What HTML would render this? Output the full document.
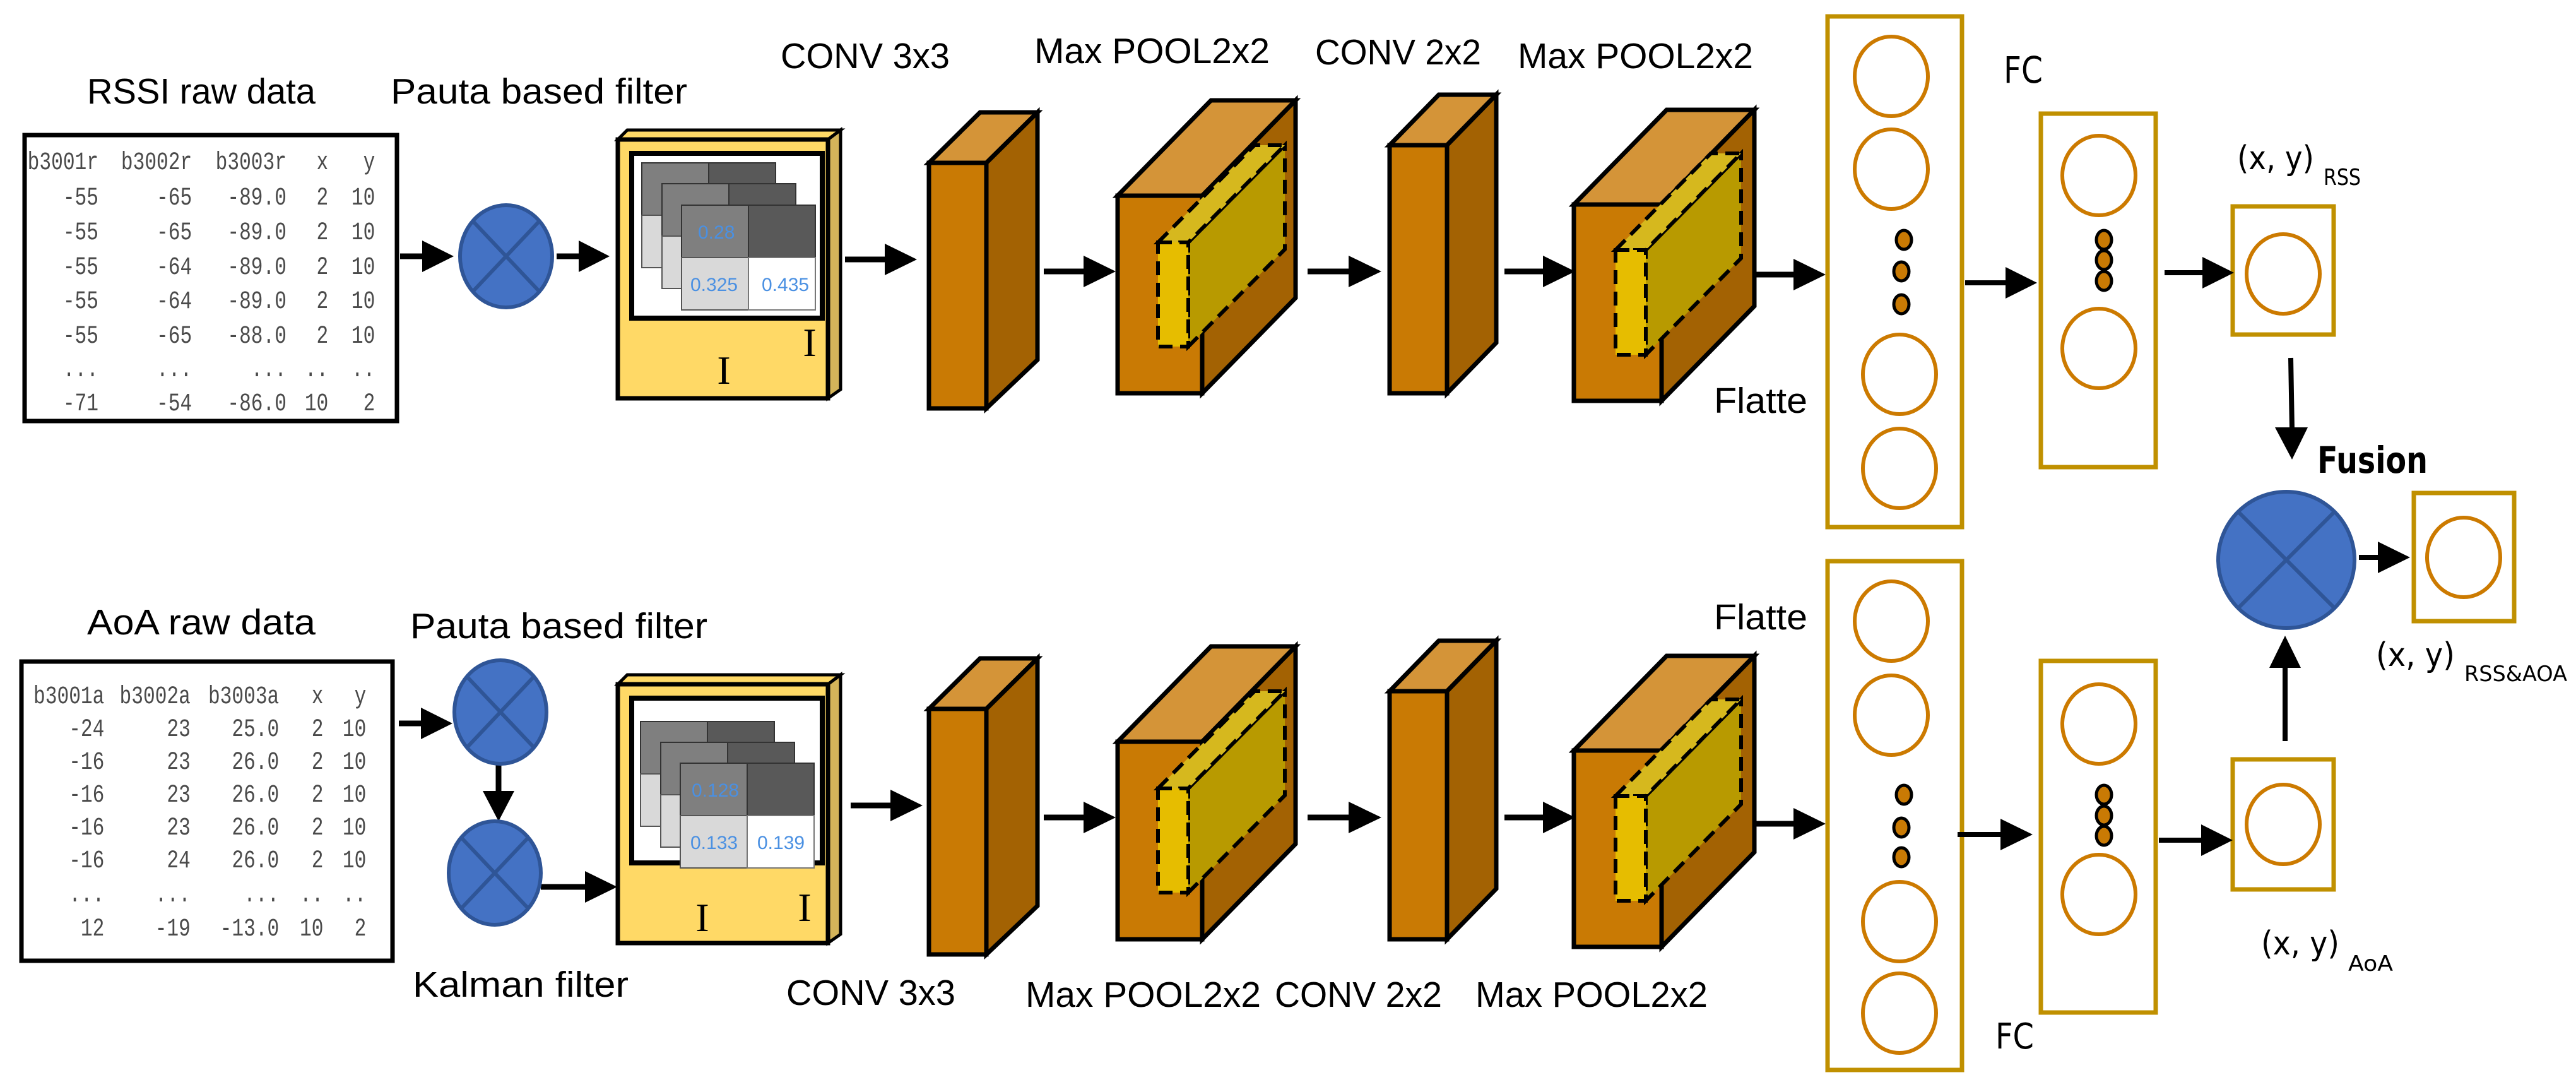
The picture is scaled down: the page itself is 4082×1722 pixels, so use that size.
<!DOCTYPE html>
<html><head><meta charset="utf-8"><style>
html,body{margin:0;padding:0;background:#fff;}
svg{display:block;}
.lb{font-family:"Liberation Sans",sans-serif;font-size:57px;fill:#000;}
.dj{font-family:"DejaVu Sans","Liberation Sans",sans-serif;fill:#000;}
.tb{font-family:"Liberation Mono",monospace;font-size:40px;fill:#4a4a4a;text-anchor:end;}
.bv{font-family:"Liberation Sans",sans-serif;font-size:30px;fill:#4A90E2;}
.rom{font-family:"Liberation Serif",serif;font-size:64px;fill:#000;text-anchor:middle;}
</style></head><body>
<svg width="4082" height="1722" viewBox="0 0 4082 1722" xmlns="http://www.w3.org/2000/svg">
<defs>
<g id="cnn" stroke="#000" stroke-width="7" stroke-linejoin="miter">
 <!-- conv1 -->
 <polygon points="1472,258 1553,178 1644,178 1563,258" fill="#D49438"/>
 <polygon points="1563,258 1644,178 1644,570 1563,647" fill="#A36203"/>
 <rect x="1472" y="258" width="91" height="389" fill="#C97A04"/>
 <!-- pool1 -->
 <polygon points="1771,310 1919,159 2053,159 1905,310" fill="#D49438"/>
 <polygon points="1905,310 2053,159 2053,472 1905,623" fill="#A36203"/>
 <rect x="1771" y="310" width="134" height="313" fill="#C97A04"/>
 <g stroke-dasharray="22,12" stroke-width="6">
 <polygon points="1883,384 2036,230 2036,395 1883,549" fill="#B89A00"/>
 <polygon points="1835,384 1988,230 2036,230 1883,384" fill="#D6B81E"/>
 <rect x="1835" y="384" width="48" height="165" fill="#E6BD00"/>
 </g>
 <!-- conv2 -->
 <polygon points="2202,230 2280,150 2371,150 2293,230" fill="#D49438"/>
 <polygon points="2293,230 2371,150 2371,543 2293,623" fill="#A36203"/>
 <rect x="2202" y="230" width="91" height="393" fill="#C97A04"/>
 <!-- pool2 -->
 <polygon points="2494,324 2641,174 2780,174 2633,324" fill="#D49438"/>
 <polygon points="2633,324 2780,174 2780,485 2633,635" fill="#A36203"/>
 <rect x="2494" y="324" width="139" height="311" fill="#C97A04"/>
 <g stroke-dasharray="22,12" stroke-width="6">
 <polygon points="2608,396 2759,243 2759,409 2608,562" fill="#B89A00"/>
 <polygon points="2560,396 2711,243 2759,243 2608,396" fill="#D6B81E"/>
 <rect x="2560" y="396" width="48" height="166" fill="#E6BD00"/>
 </g>
</g>
<g id="filt">
 <polygon points="979,221 994,206 1332,206 1312,221" fill="#FFD966" stroke="#000" stroke-width="5"/>
 <polygon points="1312,221 1332,206 1332,617 1312,631" fill="#D4B45A" stroke="#000" stroke-width="5"/>
 <rect x="979" y="221" width="333" height="410" fill="#FFD966" stroke="#000" stroke-width="7"/>
 <rect x="1001" y="243" width="302" height="261" fill="#fff" stroke="#000" stroke-width="8"/>
</g>
<g id="lay">
 <rect x="0" y="0" width="106" height="83" fill="#7F7F7F" stroke="#333" stroke-width="2"/>
 <rect x="106" y="0" width="106" height="83" fill="#595959" stroke="#333" stroke-width="2"/>
 <rect x="0" y="83" width="106" height="83" fill="#D9D9D9" stroke="#555" stroke-width="2"/>
 <rect x="106" y="83" width="106" height="83" fill="#fff" stroke="#777" stroke-width="2"/>
</g>
</defs>

<!-- ===== TOP ROW ===== -->
<text class="lb" x="138" y="164" textLength="362" lengthAdjust="spacingAndGlyphs">RSSI raw data</text>
<text class="lb" x="619" y="164" textLength="470" lengthAdjust="spacingAndGlyphs">Pauta based filter</text>
<text class="lb" x="1237" y="108" textLength="268" lengthAdjust="spacingAndGlyphs">CONV 3x3</text>
<text class="lb" x="1639" y="100" textLength="373" lengthAdjust="spacingAndGlyphs">Max POOL2x2</text>
<text class="lb" x="2084" y="102" textLength="263" lengthAdjust="spacingAndGlyphs">CONV 2x2</text>
<text class="lb" x="2405" y="108" textLength="373" lengthAdjust="spacingAndGlyphs">Max POOL2x2</text>
<text class="lb" x="2716" y="654" textLength="148" lengthAdjust="spacingAndGlyphs">Flatte</text>

<rect x="39" y="214" width="590" height="453" fill="#fff" stroke="#000" stroke-width="7"/>
<g transform="scale(0.78,1)">
 <text class="tb" x="200" y="268">b3001r</text><text class="tb" x="390" y="268">b3002r</text><text class="tb" x="582" y="268">b3003r</text><text class="tb" x="667" y="268">x</text><text class="tb" x="762" y="268">y</text>
 <g>
 <text class="tb" x="200" y="324">-55</text><text class="tb" x="390" y="324">-65</text><text class="tb" x="582" y="324">-89.0</text><text class="tb" x="667" y="324">2</text><text class="tb" x="762" y="324">10</text>
 <text class="tb" x="200" y="379">-55</text><text class="tb" x="390" y="379">-65</text><text class="tb" x="582" y="379">-89.0</text><text class="tb" x="667" y="379">2</text><text class="tb" x="762" y="379">10</text>
 <text class="tb" x="200" y="434">-55</text><text class="tb" x="390" y="434">-64</text><text class="tb" x="582" y="434">-89.0</text><text class="tb" x="667" y="434">2</text><text class="tb" x="762" y="434">10</text>
 <text class="tb" x="200" y="488">-55</text><text class="tb" x="390" y="488">-64</text><text class="tb" x="582" y="488">-89.0</text><text class="tb" x="667" y="488">2</text><text class="tb" x="762" y="488">10</text>
 <text class="tb" x="200" y="543">-55</text><text class="tb" x="390" y="543">-65</text><text class="tb" x="582" y="543">-88.0</text><text class="tb" x="667" y="543">2</text><text class="tb" x="762" y="543">10</text>
 <text class="tb" x="200" y="596">...</text><text class="tb" x="390" y="596">...</text><text class="tb" x="582" y="596">...</text><text class="tb" x="667" y="596">..</text><text class="tb" x="762" y="596">..</text>
 <text class="tb" x="200" y="650">-71</text><text class="tb" x="390" y="650">-54</text><text class="tb" x="582" y="650">-86.0</text><text class="tb" x="667" y="650">10</text><text class="tb" x="762" y="650">2</text>
 </g>
</g>

<!-- arrows top-left -->
<g fill="#000" stroke="#000" stroke-width="9">
 <line x1="634" y1="406" x2="672" y2="406"/><polygon points="669,381 719,406 669,431" stroke="none"/>
 <line x1="882" y1="406" x2="920" y2="406"/><polygon points="917,381 966,406 917,431" stroke="none"/>
 <line x1="1339" y1="411" x2="1405" y2="411"/><polygon points="1402,386 1453,411 1402,436" stroke="none"/>
</g>
<ellipse cx="802" cy="406" rx="73" ry="81" fill="#4472C4" stroke="#2F5597" stroke-width="6"/>
<line x1="750" y1="351" x2="854" y2="461" stroke="#2F5597" stroke-width="6"/>
<line x1="854" y1="351" x2="750" y2="461" stroke="#2F5597" stroke-width="6"/>

<use href="#filt"/>
<use href="#lay" x="1017" y="258"/>
<use href="#lay" x="1049" y="291"/>
<use href="#lay" x="1080" y="325"/>
<text class="bv" x="1106" y="378">0.28</text>
<text class="bv" x="1094" y="461">0.325</text>
<text class="bv" x="1207" y="461">0.435</text>
<text class="rom" x="1147" y="608">I</text>
<text class="rom" x="1283" y="564">I</text>

<use href="#cnn"/>
<g fill="#000" stroke="#000" stroke-width="9">
 <line x1="1654" y1="430" x2="1720" y2="430"/><polygon points="1717,405 1768,430 1717,455" stroke="none"/>
 <line x1="2072" y1="430" x2="2140" y2="430"/><polygon points="2137,405 2189,430 2137,455" stroke="none"/>
 <line x1="2384" y1="430" x2="2448" y2="430"/><polygon points="2445,405 2496,430 2445,455" stroke="none"/>
 <line x1="2783" y1="435" x2="2845" y2="435"/><polygon points="2842,410 2893,435 2842,460" stroke="none"/>
</g>

<!-- ===== BOTTOM ROW ===== -->
<text class="lb" x="138" y="1005" textLength="362" lengthAdjust="spacingAndGlyphs">AoA raw data</text>
<text class="lb" x="650" y="1011" textLength="471" lengthAdjust="spacingAndGlyphs">Pauta based filter</text>
<text class="lb" x="654" y="1579" textLength="342" lengthAdjust="spacingAndGlyphs">Kalman filter</text>
<text class="lb" x="1246" y="1592" textLength="268" lengthAdjust="spacingAndGlyphs">CONV 3x3</text>
<text class="lb" x="1625" y="1595" textLength="373" lengthAdjust="spacingAndGlyphs">Max POOL2x2</text>
<text class="lb" x="2020" y="1595" textLength="265" lengthAdjust="spacingAndGlyphs">CONV 2x2</text>
<text class="lb" x="2338" y="1595" textLength="368" lengthAdjust="spacingAndGlyphs">Max POOL2x2</text>
<text class="lb" x="2716" y="997" textLength="148" lengthAdjust="spacingAndGlyphs">Flatte</text>

<rect x="34" y="1048" width="588" height="474" fill="#fff" stroke="#000" stroke-width="7"/>
<g transform="scale(0.78,1)">
 <text class="tb" x="212" y="1114">b3001a</text><text class="tb" x="387" y="1114">b3002a</text><text class="tb" x="567" y="1114">b3003a</text><text class="tb" x="657" y="1114">x</text><text class="tb" x="744" y="1114">y</text>
 <text class="tb" x="212" y="1166">-24</text><text class="tb" x="387" y="1166">23</text><text class="tb" x="567" y="1166">25.0</text><text class="tb" x="657" y="1166">2</text><text class="tb" x="744" y="1166">10</text>
 <text class="tb" x="212" y="1218">-16</text><text class="tb" x="387" y="1218">23</text><text class="tb" x="567" y="1218">26.0</text><text class="tb" x="657" y="1218">2</text><text class="tb" x="744" y="1218">10</text>
 <text class="tb" x="212" y="1270">-16</text><text class="tb" x="387" y="1270">23</text><text class="tb" x="567" y="1270">26.0</text><text class="tb" x="657" y="1270">2</text><text class="tb" x="744" y="1270">10</text>
 <text class="tb" x="212" y="1322">-16</text><text class="tb" x="387" y="1322">23</text><text class="tb" x="567" y="1322">26.0</text><text class="tb" x="657" y="1322">2</text><text class="tb" x="744" y="1322">10</text>
 <text class="tb" x="212" y="1374">-16</text><text class="tb" x="387" y="1374">24</text><text class="tb" x="567" y="1374">26.0</text><text class="tb" x="657" y="1374">2</text><text class="tb" x="744" y="1374">10</text>
 <text class="tb" x="212" y="1428">...</text><text class="tb" x="387" y="1428">...</text><text class="tb" x="567" y="1428">...</text><text class="tb" x="657" y="1428">..</text><text class="tb" x="744" y="1428">..</text>
 <text class="tb" x="212" y="1482">12</text><text class="tb" x="387" y="1482">-19</text><text class="tb" x="567" y="1482">-13.0</text><text class="tb" x="657" y="1482">10</text><text class="tb" x="744" y="1482">2</text>
</g>

<g fill="#000" stroke="#000" stroke-width="9">
 <line x1="632" y1="1146" x2="670" y2="1146"/><polygon points="667,1121 717,1146 667,1171" stroke="none"/>
 <line x1="790" y1="1202" x2="790" y2="1256"/><polygon points="765,1253 790,1301 815,1253" stroke="none"/>
 <line x1="857" y1="1405" x2="930" y2="1405"/><polygon points="927,1380 978,1405 927,1430" stroke="none"/>
 <line x1="1348" y1="1276" x2="1414" y2="1276"/><polygon points="1411,1251 1462,1276 1411,1301" stroke="none"/>
</g>
<ellipse cx="793" cy="1128" rx="73" ry="82" fill="#4472C4" stroke="#2F5597" stroke-width="6"/>
<line x1="741" y1="1073" x2="845" y2="1183" stroke="#2F5597" stroke-width="6"/>
<line x1="845" y1="1073" x2="741" y2="1183" stroke="#2F5597" stroke-width="6"/>
<ellipse cx="784" cy="1383" rx="73" ry="82" fill="#4472C4" stroke="#2F5597" stroke-width="6"/>
<line x1="732" y1="1328" x2="836" y2="1438" stroke="#2F5597" stroke-width="6"/>
<line x1="836" y1="1328" x2="732" y2="1438" stroke="#2F5597" stroke-width="6"/>

<use href="#filt" y="863"/>
<use href="#lay" x="1015" y="1143"/>
<use href="#lay" x="1047" y="1176"/>
<use href="#lay" x="1078" y="1209"/>
<text class="bv" x="1096" y="1262">0.128</text>
<text class="bv" x="1094" y="1345">0.133</text>
<text class="bv" x="1200" y="1345">0.139</text>
<text class="rom" x="1113" y="1475">I</text>
<text class="rom" x="1275" y="1459">I</text>

<use href="#cnn" y="865"/>
<g fill="#000" stroke="#000" stroke-width="9">
 <line x1="1654" y1="1295" x2="1720" y2="1295"/><polygon points="1717,1270 1768,1295 1717,1320" stroke="none"/>
 <line x1="2072" y1="1295" x2="2140" y2="1295"/><polygon points="2137,1270 2189,1295 2137,1320" stroke="none"/>
 <line x1="2384" y1="1295" x2="2448" y2="1295"/><polygon points="2445,1270 2496,1295 2445,1320" stroke="none"/>
 <line x1="2783" y1="1305" x2="2845" y2="1305"/><polygon points="2842,1280 2893,1305 2842,1330" stroke="none"/>
</g>

<!-- ===== RIGHT SIDE ===== -->
<g fill="none" stroke="#C09000" stroke-width="7">
 <rect x="2896" y="26" width="213" height="809"/>
 <rect x="3234" y="180" width="182" height="560"/>
 <rect x="2896" y="889" width="213" height="806"/>
 <rect x="3234" y="1047" width="182" height="557"/>
 <rect x="3538" y="327" width="160" height="203"/>
 <rect x="3538" y="1203" width="160" height="206"/>
 <rect x="3825" y="781" width="159" height="203"/>
</g>
<g fill="none" stroke="#CC7A00" stroke-width="6">
 <ellipse cx="2997" cy="121" rx="58" ry="63"/>
 <ellipse cx="2997" cy="268" rx="58" ry="63"/>
 <ellipse cx="3010" cy="593" rx="58" ry="63"/>
 <ellipse cx="3010" cy="742" rx="58" ry="63"/>
 <ellipse cx="3326" cy="278" rx="58" ry="63"/>
 <ellipse cx="3326" cy="552" rx="58" ry="63"/>
 <ellipse cx="3618" cy="434" rx="58" ry="63"/>
 <ellipse cx="2997" cy="984" rx="58" ry="63"/>
 <ellipse cx="2997" cy="1133" rx="58" ry="63"/>
 <ellipse cx="3010" cy="1460" rx="58" ry="63"/>
 <ellipse cx="3010" cy="1605" rx="58" ry="63"/>
 <ellipse cx="3326" cy="1147" rx="58" ry="63"/>
 <ellipse cx="3326" cy="1417" rx="58" ry="63"/>
 <ellipse cx="3618" cy="1306" rx="58" ry="63"/>
 <ellipse cx="3904" cy="883" rx="58" ry="63"/>
</g>
<g fill="#C97A04" stroke="#000" stroke-width="5">
 <ellipse cx="3017" cy="380" rx="12" ry="15"/>
 <ellipse cx="3013" cy="430" rx="12" ry="15"/>
 <ellipse cx="3013" cy="482" rx="12" ry="15"/>
 <ellipse cx="3334" cy="380" rx="12" ry="15"/>
 <ellipse cx="3334" cy="412" rx="12" ry="15"/>
 <ellipse cx="3334" cy="445" rx="12" ry="15"/>
 <ellipse cx="3017" cy="1259" rx="12" ry="15"/>
 <ellipse cx="3013" cy="1311" rx="12" ry="15"/>
 <ellipse cx="3013" cy="1358" rx="12" ry="15"/>
 <ellipse cx="3334" cy="1259" rx="12" ry="15"/>
 <ellipse cx="3334" cy="1292" rx="12" ry="15"/>
 <ellipse cx="3334" cy="1324" rx="12" ry="15"/>
</g>
<g fill="#000" stroke="#000" stroke-width="8">
 <line x1="3114" y1="448" x2="3180" y2="448"/><polygon points="3178,423 3228,448 3178,473" stroke="none"/>
 <line x1="3430" y1="432" x2="3492" y2="432"/><polygon points="3490,407 3540,432 3490,457" stroke="none"/>
 <line x1="3102" y1="1322" x2="3172" y2="1322"/><polygon points="3170,1297 3221,1322 3170,1347" stroke="none"/>
 <line x1="3421" y1="1331" x2="3490" y2="1331"/><polygon points="3488,1306 3538,1331 3488,1356" stroke="none"/>
 <line x1="3630" y1="567" x2="3632" y2="680"/><polygon points="3605,677 3632,728 3657,677" stroke="none"/>
 <line x1="3621" y1="1174" x2="3621" y2="1055"/><polygon points="3596,1058 3621,1007 3646,1058" stroke="none"/>
 <line x1="3738" y1="883" x2="3772" y2="883"/><polygon points="3768,858 3819,883 3768,908" stroke="none"/>
</g>
<ellipse cx="3623" cy="887" rx="108" ry="108" fill="#4472C4" stroke="#2F5597" stroke-width="6"/>
<line x1="3547" y1="811" x2="3699" y2="963" stroke="#2F5597" stroke-width="6"/>
<line x1="3699" y1="811" x2="3547" y2="963" stroke="#2F5597" stroke-width="6"/>

<text class="dj" x="3175" y="131" font-size="58" textLength="62" lengthAdjust="spacingAndGlyphs">FC</text>
<text class="dj" x="3162" y="1661" font-size="56" textLength="61" lengthAdjust="spacingAndGlyphs">FC</text>
<text class="dj" x="3545" y="268" font-size="52" textLength="122" lengthAdjust="spacingAndGlyphs">(x, y)</text>
<text class="dj" x="3682" y="293" font-size="36" textLength="59" lengthAdjust="spacingAndGlyphs">RSS</text>
<text class="dj" x="3672" y="749" font-size="58" font-weight="bold" textLength="175" lengthAdjust="spacingAndGlyphs">Fusion</text>
<text class="dj" x="3765" y="1055" font-size="52" textLength="125" lengthAdjust="spacingAndGlyphs">(x, y)</text>
<text class="dj" x="3905" y="1079" font-size="34" textLength="163" lengthAdjust="spacingAndGlyphs">RSS&amp;AOA</text>
<text class="dj" x="3583" y="1512" font-size="52" textLength="124" lengthAdjust="spacingAndGlyphs">(x, y)</text>
<text class="dj" x="3721" y="1538" font-size="34" textLength="71" lengthAdjust="spacingAndGlyphs">AoA</text>
</svg>
</body></html>
